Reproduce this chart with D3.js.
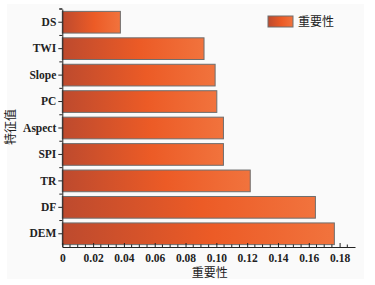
<!DOCTYPE html>
<html>
<head>
<meta charset="utf-8">
<script src="https://cdn.jsdelivr.net/npm/d3@7"></script>
<style>
  body { margin: 0; background: #fff; }
  .tick text { font-family: "Liberation Serif", serif; font-weight: bold; font-size: 11.5px; fill: #222; }
  .domain, .tick line { stroke: #222; }
</style>
</head>
<body>
<div id="chart"></div>
<script>
// feature importance, top to bottom
var features = ["DS", "TWI", "Slope", "PC", "Aspect", "SPI", "TR", "DF", "DEM"];
var importance = [0.0377, 0.092, 0.0992, 0.1003, 0.1046, 0.1046, 0.122, 0.1643, 0.1766];
var xTicks = [0, 0.02, 0.04, 0.06, 0.08, 0.1, 0.12, 0.14, 0.16, 0.18];
var xTickLabels = ["0", "0.02", "0.04", "0.06", "0.08", "0.10", "0.12", "0.14", "0.16", "0.18"];
var seriesName = "重要性";
var xTitle = "重要性";
var yTitle = "特征值";

var width = 375, height = 285;
var mLeft = 62.3, mRight = 355, mTop = 9, mBottom = 247;

var svg = d3.select("#chart").append("svg")
    .attr("width", width)
    .attr("height", height);

svg.append("rect")
    .attr("x", 7).attr("y", 4)
    .attr("width", 357).attr("height", 275)
    .attr("fill", "#fafafa");

var defs = svg.append("defs");
var grad = defs.append("linearGradient")
    .attr("id", "barGrad")
    .attr("x1", "0%").attr("x2", "100%")
    .attr("y1", "0%").attr("y2", "0%");
grad.append("stop").attr("offset", "0%").attr("stop-color", "#bd4a2e");
grad.append("stop").attr("offset", "55%").attr("stop-color", "#ec5b26");
grad.append("stop").attr("offset", "100%").attr("stop-color", "#f1733d");

var x = d3.scaleLinear().domain([0, 0.19]).range([mLeft, mRight]);
var y = d3.scaleBand().domain(features).range([mTop, mBottom]).paddingInner(0.18).paddingOuter(0.09);

var data = features.map(function(f, i) { return {name: f, value: importance[i]}; });

svg.selectAll(".bar")
    .data(data)
    .enter()
    .append("rect")
    .attr("class", "bar")
    .attr("x", x(0))
    .attr("y", function(d) { return y(d.name); })
    .attr("width", function(d) { return x(d.value) - x(0); })
    .attr("height", y.bandwidth())
    .attr("fill", "url(#barGrad)")
    .attr("stroke", "#6e6e6e")
    .attr("stroke-width", 1);

// x axis: major ticks + minor ticks, pointing up
var xAxis = svg.append("g")
    .attr("transform", "translate(0," + mBottom + ")")
    .call(d3.axisBottom(x)
        .tickValues(xTicks)
        .tickFormat(function(d, i) { return xTickLabels[i]; })
        .tickSizeInner(-4)
        .tickSizeOuter(0)
        .tickPadding(6));
xAxis.selectAll(".tick text").attr("dy", "0.8em");

var minor = d3.range(0, 0.19, 0.005).filter(function(v) {
    return Math.abs(v / 0.02 - Math.round(v / 0.02)) > 1e-6;
});
svg.append("g").selectAll("line")
    .data(minor)
    .enter()
    .append("line")
    .attr("x1", function(d) { return x(d); })
    .attr("x2", function(d) { return x(d); })
    .attr("y1", mBottom)
    .attr("y2", mBottom - 2.5)
    .attr("stroke", "#222");

// y axis
svg.append("g")
    .attr("transform", "translate(" + mLeft + ",0)")
    .call(d3.axisLeft(y).tickSizeInner(4).tickSizeOuter(0).tickPadding(2));

var step = y.step();
var bounds = features.map(function(f) { return y(f) - y.paddingInner() * step / 2; });
bounds.push(mTop);
svg.append("g").selectAll("line")
    .data(bounds)
    .enter()
    .append("line")
    .attr("x1", mLeft)
    .attr("x2", mLeft - 3)
    .attr("y1", function(d) { return d; })
    .attr("y2", function(d) { return d; })
    .attr("stroke", "#222");

// titles
svg.append("text")
    .attr("x", (mLeft + mRight) / 2 + 1)
    .attr("y", 277)
    .attr("text-anchor", "middle")
    .style("font-family", "'Noto Sans CJK SC', sans-serif")
    .style("font-size", "12px")
    .attr("fill", "#222")
    .text(xTitle);

svg.append("text")
    .attr("transform", "translate(15,127) rotate(-90)")
    .attr("text-anchor", "middle")
    .style("font-family", "'Noto Sans CJK SC', sans-serif")
    .style("font-size", "12px")
    .attr("fill", "#222")
    .text(yTitle);

// legend
var legend = svg.append("g").attr("transform", "translate(268,16)");
legend.append("rect")
    .attr("width", 25).attr("height", 11)
    .attr("fill", "url(#barGrad)")
    .attr("stroke", "#6e6e6e");
legend.append("text")
    .attr("x", 30).attr("y", 10)
    .style("font-family", "'Noto Sans CJK SC', sans-serif")
    .style("font-size", "12px")
    .attr("fill", "#222")
    .text(seriesName);
</script>
</body>
</html>
